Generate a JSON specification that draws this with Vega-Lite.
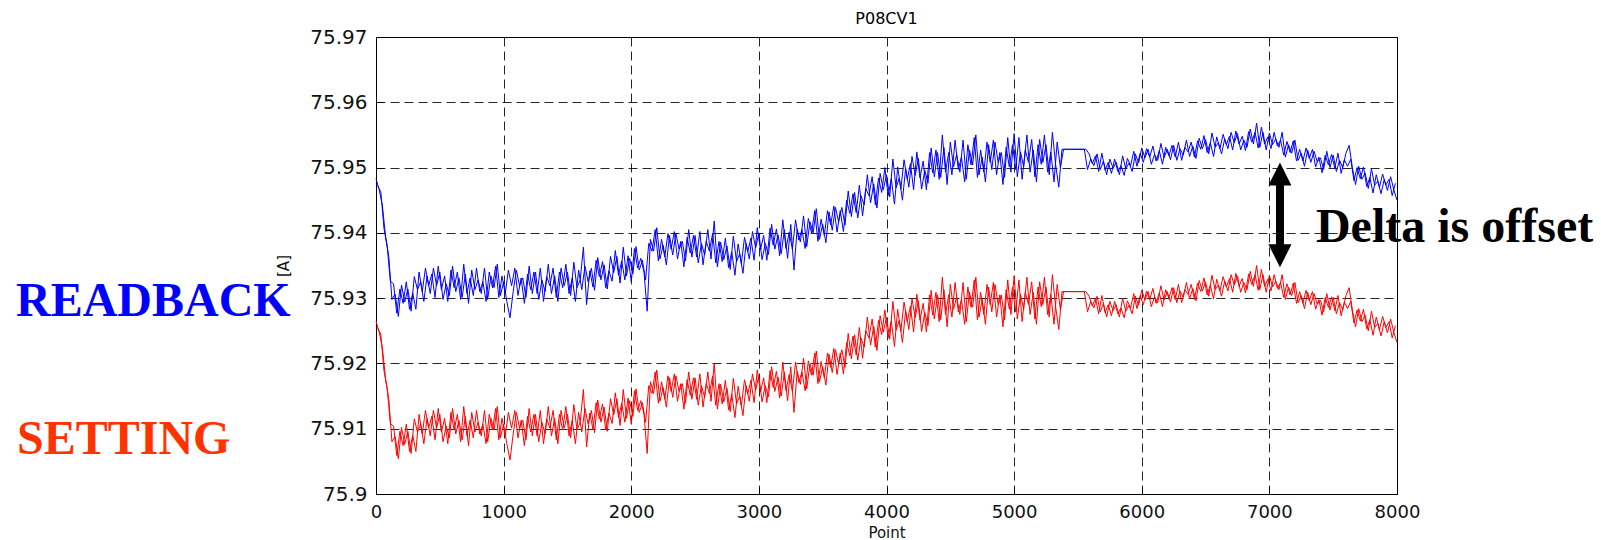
{
  "$schema": "https://vega.github.io/schema/vega-lite/v6.json",
  "width": 1021,
  "height": 457,
  "autosize": {"type": "none"},
  "padding": {"left": 376, "top": 37, "right": 204, "bottom": 46},
  "background": "white",
  "title": {"text": "P08CV1", "font": "DejaVu Sans", "fontSize": 16, "fontWeight": "normal", "color": "#000000", "offset": 0},
  "config": {
    "view": {"stroke": "#000000", "strokeWidth": 1},
    "axis": {
      "domainColor": "#000000",
      "grid": true,
      "gridColor": "#000000",
      "gridOpacity": 0.85,
      "gridDash": [9, 5],
      "ticks": true,
      "tickColor": "#000000",
      "tickSize": -7,
      "labelFlush": false,
      "labelColor": "#111111",
      "labelFont": "DejaVu Sans",
      "titleFont": "DejaVu Sans",
      "titleFontWeight": "normal",
      "titleColor": "#111111"
    }
  },
  "datasets": {
    "main": [
    {"p":0,"r":75.9483,"s":75.9265},{"p":25,"r":75.9466,"s":75.9248},{"p":50,"r":75.9442,"s":75.9224},{"p":75,"r":75.9394,"s":75.9176},{"p":100,"r":75.9364,"s":75.9146},
    {"p":125,"r":75.9298,"s":75.908},{"p":150,"r":75.9306,"s":75.9088},{"p":175,"r":75.9272,"s":75.9054},{"p":200,"r":75.932,"s":75.9102},{"p":225,"r":75.9294,"s":75.9076},
    {"p":250,"r":75.9314,"s":75.9096},{"p":275,"r":75.928,"s":75.9062},{"p":300,"r":75.9333,"s":75.9115},{"p":325,"r":75.9313,"s":75.9095},{"p":350,"r":75.9325,"s":75.9107},
    {"p":375,"r":75.9295,"s":75.9077},{"p":400,"r":75.9334,"s":75.9116},{"p":425,"r":75.9307,"s":75.9089},{"p":450,"r":75.9346,"s":75.9128},{"p":475,"r":75.9319,"s":75.9101},
    {"p":500,"r":75.934,"s":75.9122},{"p":525,"r":75.9298,"s":75.908},{"p":550,"r":75.9322,"s":75.9104},{"p":575,"r":75.9304,"s":75.9086},{"p":600,"r":75.9349,"s":75.9131},
    {"p":625,"r":75.931,"s":75.9092},{"p":650,"r":75.9331,"s":75.9113},{"p":675,"r":75.9301,"s":75.9083},{"p":700,"r":75.9337,"s":75.9119},{"p":725,"r":75.9292,"s":75.9074},
    {"p":750,"r":75.9343,"s":75.9125},{"p":775,"r":75.9313,"s":75.9095},{"p":800,"r":75.9328,"s":75.911},{"p":825,"r":75.9307,"s":75.9089},{"p":850,"r":75.9346,"s":75.9128},
    {"p":875,"r":75.9298,"s":75.908},{"p":900,"r":75.9334,"s":75.9116},{"p":925,"r":75.9316,"s":75.9098},{"p":950,"r":75.9352,"s":75.9134},{"p":975,"r":75.9304,"s":75.9086},
    {"p":1000,"r":75.9325,"s":75.9107},{"p":1025,"r":75.9295,"s":75.9077},{"p":1050,"r":75.927,"s":75.9052},{"p":1075,"r":75.931,"s":75.9092},{"p":1100,"r":75.9343,"s":75.9125},
    {"p":1125,"r":75.9319,"s":75.9101},{"p":1150,"r":75.9331,"s":75.9113},{"p":1175,"r":75.9301,"s":75.9083},{"p":1200,"r":75.9349,"s":75.9131},{"p":1225,"r":75.9307,"s":75.9089},
    {"p":1250,"r":75.934,"s":75.9122},{"p":1275,"r":75.9298,"s":75.908},{"p":1300,"r":75.9328,"s":75.911},{"p":1325,"r":75.931,"s":75.9092},{"p":1350,"r":75.9352,"s":75.9134},
    {"p":1375,"r":75.9307,"s":75.9089},{"p":1400,"r":75.9334,"s":75.9116},{"p":1425,"r":75.9295,"s":75.9077},{"p":1450,"r":75.9346,"s":75.9128},{"p":1475,"r":75.9319,"s":75.9101},
    {"p":1500,"r":75.934,"s":75.9122},{"p":1525,"r":75.9304,"s":75.9086},{"p":1550,"r":75.9355,"s":75.9137},{"p":1575,"r":75.9316,"s":75.9098},{"p":1600,"r":75.9328,"s":75.911},
    {"p":1625,"r":75.9378,"s":75.916},{"p":1650,"r":75.929,"s":75.9072},{"p":1675,"r":75.9342,"s":75.9124},{"p":1700,"r":75.9317,"s":75.9099},{"p":1725,"r":75.9358,"s":75.914},
    {"p":1750,"r":75.9333,"s":75.9115},{"p":1775,"r":75.9356,"s":75.9138},{"p":1800,"r":75.9316,"s":75.9098},{"p":1825,"r":75.9342,"s":75.9124},{"p":1850,"r":75.9326,"s":75.9108},
    {"p":1875,"r":75.9373,"s":75.9155},{"p":1900,"r":75.9335,"s":75.9117},{"p":1925,"r":75.9357,"s":75.9139},{"p":1950,"r":75.9328,"s":75.911},{"p":1975,"r":75.9365,"s":75.9147},
    {"p":2000,"r":75.9325,"s":75.9107},{"p":2025,"r":75.9376,"s":75.9158},{"p":2050,"r":75.9346,"s":75.9128},{"p":2075,"r":75.9361,"s":75.9143},{"p":2100,"r":75.934,"s":75.9122},
    {"p":2125,"r":75.928,"s":75.9062},{"p":2150,"r":75.939,"s":75.9172},{"p":2175,"r":75.9372,"s":75.9154},{"p":2200,"r":75.9408,"s":75.919},{"p":2225,"r":75.936,"s":75.9142},
    {"p":2250,"r":75.9381,"s":75.9163},{"p":2275,"r":75.9351,"s":75.9133},{"p":2300,"r":75.9396,"s":75.9178},{"p":2325,"r":75.9366,"s":75.9148},{"p":2350,"r":75.9399,"s":75.9181},
    {"p":2375,"r":75.9375,"s":75.9157},{"p":2400,"r":75.9387,"s":75.9169},{"p":2425,"r":75.9357,"s":75.9139},{"p":2450,"r":75.9405,"s":75.9187},{"p":2475,"r":75.9363,"s":75.9145},
    {"p":2500,"r":75.9396,"s":75.9178},{"p":2525,"r":75.9354,"s":75.9136},{"p":2550,"r":75.9384,"s":75.9166},{"p":2575,"r":75.9366,"s":75.9148},{"p":2600,"r":75.9405,"s":75.9187},
    {"p":2625,"r":75.936,"s":75.9142},{"p":2650,"r":75.9418,"s":75.92},{"p":2675,"r":75.9348,"s":75.913},{"p":2700,"r":75.9386,"s":75.9168},{"p":2725,"r":75.9359,"s":75.9141},
    {"p":2750,"r":75.938,"s":75.9162},{"p":2775,"r":75.9344,"s":75.9126},{"p":2800,"r":75.9395,"s":75.9177},{"p":2825,"r":75.9356,"s":75.9138},{"p":2850,"r":75.9368,"s":75.915},
    {"p":2875,"r":75.9338,"s":75.912},{"p":2900,"r":75.9384,"s":75.9166},{"p":2925,"r":75.936,"s":75.9142},{"p":2950,"r":75.9402,"s":75.9184},{"p":2975,"r":75.9377,"s":75.9159},
    {"p":3000,"r":75.94,"s":75.9182},{"p":3025,"r":75.9359,"s":75.9141},{"p":3050,"r":75.9384,"s":75.9166},{"p":3075,"r":75.9367,"s":75.9149},{"p":3100,"r":75.9413,"s":75.9195},
    {"p":3125,"r":75.9375,"s":75.9157},{"p":3150,"r":75.9397,"s":75.9179},{"p":3175,"r":75.9368,"s":75.915},{"p":3200,"r":75.9405,"s":75.9187},{"p":3225,"r":75.9361,"s":75.9143},
    {"p":3250,"r":75.9413,"s":75.9195},{"p":3275,"r":75.9343,"s":75.9125},{"p":3300,"r":75.9406,"s":75.9188},{"p":3325,"r":75.9386,"s":75.9168},{"p":3350,"r":75.9426,"s":75.9208},
    {"p":3375,"r":75.9379,"s":75.9161},{"p":3400,"r":75.9417,"s":75.9199},{"p":3425,"r":75.94,"s":75.9182},{"p":3450,"r":75.9437,"s":75.9219},{"p":3475,"r":75.939,"s":75.9172},
    {"p":3500,"r":75.9413,"s":75.9195},{"p":3525,"r":75.9385,"s":75.9167},{"p":3550,"r":75.9432,"s":75.9214},{"p":3575,"r":75.9404,"s":75.9186},{"p":3600,"r":75.9439,"s":75.9221},
    {"p":3625,"r":75.9417,"s":75.9199},{"p":3650,"r":75.9439,"s":75.9221},{"p":3675,"r":75.9412,"s":75.9194},{"p":3700,"r":75.9464,"s":75.9246},{"p":3725,"r":75.9425,"s":75.9207},
    {"p":3750,"r":75.9462,"s":75.9244},{"p":3775,"r":75.9423,"s":75.9205},{"p":3800,"r":75.9457,"s":75.9239},{"p":3825,"r":75.9443,"s":75.9225},{"p":3850,"r":75.9489,"s":75.9271},
    {"p":3875,"r":75.9446,"s":75.9228},{"p":3900,"r":75.9475,"s":75.9257},{"p":3925,"r":75.9438,"s":75.922},{"p":3950,"r":75.9491,"s":75.9273},{"p":3975,"r":75.9466,"s":75.9248},
    {"p":4000,"r":75.9489,"s":75.9271},{"p":4025,"r":75.9455,"s":75.9237},{"p":4050,"r":75.9513,"s":75.9295},{"p":4075,"r":75.9469,"s":75.9251},{"p":4100,"r":75.9484,"s":75.9266},
    {"p":4125,"r":75.945,"s":75.9232},{"p":4150,"r":75.9499,"s":75.9281},{"p":4175,"r":75.947,"s":75.9252},{"p":4200,"r":75.9517,"s":75.9299},{"p":4225,"r":75.9488,"s":75.927},
    {"p":4250,"r":75.9514,"s":75.9296},{"p":4275,"r":75.9467,"s":75.9249},{"p":4300,"r":75.9496,"s":75.9278},{"p":4325,"r":75.9476,"s":75.9258},{"p":4350,"r":75.953,"s":75.9312},
    {"p":4375,"r":75.9486,"s":75.9268},{"p":4400,"r":75.9523,"s":75.9305},{"p":4425,"r":75.9485,"s":75.9267},{"p":4450,"r":75.9531,"s":75.9313},{"p":4475,"r":75.9474,"s":75.9256},
    {"p":4500,"r":75.9539,"s":75.9321},{"p":4525,"r":75.9501,"s":75.9283},{"p":4550,"r":75.952,"s":75.9302},{"p":4575,"r":75.9493,"s":75.9275},{"p":4600,"r":75.9542,"s":75.9324},
    {"p":4625,"r":75.9482,"s":75.9264},{"p":4650,"r":75.9527,"s":75.9309},{"p":4675,"r":75.9504,"s":75.9286},{"p":4700,"r":75.955,"s":75.9332},{"p":4725,"r":75.9489,"s":75.9271},
    {"p":4750,"r":75.9516,"s":75.9298},{"p":4775,"r":75.9478,"s":75.926},{"p":4800,"r":75.9535,"s":75.9317},{"p":4825,"r":75.9497,"s":75.9279},{"p":4850,"r":75.9539,"s":75.9321},
    {"p":4875,"r":75.9508,"s":75.929},{"p":4900,"r":75.9523,"s":75.9305},{"p":4925,"r":75.9485,"s":75.9267},{"p":4950,"r":75.9546,"s":75.9328},{"p":4975,"r":75.9493,"s":75.9275},
    {"p":5000,"r":75.9552,"s":75.9334},{"p":5025,"r":75.9486,"s":75.9268},{"p":5050,"r":75.9524,"s":75.9306},{"p":5075,"r":75.9501,"s":75.9283},{"p":5100,"r":75.955,"s":75.9332},
    {"p":5125,"r":75.9493,"s":75.9275},{"p":5150,"r":75.9527,"s":75.9309},{"p":5175,"r":75.9478,"s":75.926},{"p":5200,"r":75.9543,"s":75.9325},{"p":5225,"r":75.9508,"s":75.929},
    {"p":5250,"r":75.9535,"s":75.9317},{"p":5275,"r":75.9489,"s":75.9271},{"p":5300,"r":75.9554,"s":75.9336},{"p":5325,"r":75.9505,"s":75.9287},{"p":5350,"r":75.947,"s":75.9252},
    {"p":5375,"r":75.9528,"s":75.931},{"p":5400,"r":75.9528,"s":75.931},{"p":5425,"r":75.9528,"s":75.931},{"p":5450,"r":75.9528,"s":75.931},{"p":5475,"r":75.9528,"s":75.931},
    {"p":5500,"r":75.9528,"s":75.931},{"p":5525,"r":75.9528,"s":75.931},{"p":5550,"r":75.9528,"s":75.931},{"p":5575,"r":75.9497,"s":75.9279},{"p":5600,"r":75.9513,"s":75.9295},
    {"p":5625,"r":75.9503,"s":75.9285},{"p":5650,"r":75.9521,"s":75.9303},{"p":5675,"r":75.9497,"s":75.9279},{"p":5700,"r":75.951,"s":75.9292},{"p":5725,"r":75.9489,"s":75.9271},
    {"p":5750,"r":75.9513,"s":75.9295},{"p":5775,"r":75.9499,"s":75.9281},{"p":5800,"r":75.9508,"s":75.929},{"p":5825,"r":75.9489,"s":75.9271},{"p":5850,"r":75.9518,"s":75.93},
    {"p":5875,"r":75.9498,"s":75.928},{"p":5900,"r":75.9507,"s":75.9289},{"p":5925,"r":75.9494,"s":75.9276},{"p":5950,"r":75.9521,"s":75.9303},{"p":5975,"r":75.9507,"s":75.9289},
    {"p":6000,"r":75.953,"s":75.9312},{"p":6025,"r":75.9515,"s":75.9297},{"p":6050,"r":75.9528,"s":75.931},{"p":6075,"r":75.9505,"s":75.9287},{"p":6100,"r":75.952,"s":75.9302},
    {"p":6125,"r":75.9511,"s":75.9293},{"p":6150,"r":75.9537,"s":75.9319},{"p":6175,"r":75.9515,"s":75.9297},{"p":6200,"r":75.9528,"s":75.931},{"p":6225,"r":75.9512,"s":75.9294},
    {"p":6250,"r":75.9534,"s":75.9316},{"p":6275,"r":75.9511,"s":75.9293},{"p":6300,"r":75.9529,"s":75.9311},{"p":6325,"r":75.9519,"s":75.9301},{"p":6350,"r":75.9542,"s":75.9324},
    {"p":6375,"r":75.9517,"s":75.9299},{"p":6400,"r":75.9533,"s":75.9315},{"p":6425,"r":75.9514,"s":75.9296},{"p":6450,"r":75.9545,"s":75.9327},{"p":6475,"r":75.9529,"s":75.9311},
    {"p":6500,"r":75.9543,"s":75.9325},{"p":6525,"r":75.9521,"s":75.9303},{"p":6550,"r":75.9553,"s":75.9335},{"p":6575,"r":75.9531,"s":75.9313},{"p":6600,"r":75.9538,"s":75.932},
    {"p":6625,"r":75.9521,"s":75.9303},{"p":6650,"r":75.9544,"s":75.9326},{"p":6675,"r":75.9529,"s":75.9311},{"p":6700,"r":75.9554,"s":75.9336},{"p":6725,"r":75.9538,"s":75.932},
    {"p":6750,"r":75.9552,"s":75.9334},{"p":6775,"r":75.9527,"s":75.9309},{"p":6800,"r":75.9542,"s":75.9324},{"p":6825,"r":75.9531,"s":75.9313},{"p":6850,"r":75.9559,"s":75.9341},
    {"p":6875,"r":75.9536,"s":75.9318},{"p":6900,"r":75.9568,"s":75.935},{"p":6925,"r":75.9531,"s":75.9313},{"p":6950,"r":75.9554,"s":75.9336},{"p":6975,"r":75.9527,"s":75.9309},
    {"p":7000,"r":75.9553,"s":75.9335},{"p":7025,"r":75.9535,"s":75.9317},{"p":7050,"r":75.9544,"s":75.9326},{"p":7075,"r":75.9531,"s":75.9313},{"p":7100,"r":75.9554,"s":75.9336},
    {"p":7125,"r":75.9516,"s":75.9298},{"p":7150,"r":75.9535,"s":75.9317},{"p":7175,"r":75.9522,"s":75.9304},{"p":7200,"r":75.9542,"s":75.9324},{"p":7225,"r":75.9511,"s":75.9293},
    {"p":7250,"r":75.9522,"s":75.9304},{"p":7275,"r":75.9502,"s":75.9284},{"p":7300,"r":75.9527,"s":75.9309},{"p":7325,"r":75.9508,"s":75.929},{"p":7350,"r":75.9525,"s":75.9307},
    {"p":7375,"r":75.9509,"s":75.9291},{"p":7400,"r":75.9515,"s":75.9297},{"p":7425,"r":75.9497,"s":75.9279},{"p":7450,"r":75.9525,"s":75.9307},{"p":7475,"r":75.95,"s":75.9282},
    {"p":7500,"r":75.9519,"s":75.9301},{"p":7525,"r":75.9494,"s":75.9276},{"p":7550,"r":75.9511,"s":75.9293},{"p":7575,"r":75.95,"s":75.9282},{"p":7600,"r":75.9522,"s":75.9304},
    {"p":7625,"r":75.9534,"s":75.9316},{"p":7650,"r":75.95,"s":75.9282},{"p":7675,"r":75.9474,"s":75.9256},{"p":7700,"r":75.9502,"s":75.9284},{"p":7725,"r":75.9482,"s":75.9264},
    {"p":7750,"r":75.9492,"s":75.9274},{"p":7775,"r":75.9468,"s":75.925},{"p":7800,"r":75.9498,"s":75.928},{"p":7825,"r":75.9473,"s":75.9255},{"p":7850,"r":75.9479,"s":75.9261},
    {"p":7875,"r":75.946,"s":75.9242},{"p":7900,"r":75.9482,"s":75.9264},{"p":7925,"r":75.9465,"s":75.9247},{"p":7950,"r":75.9486,"s":75.9268},{"p":7975,"r":75.9466,"s":75.9248},
    {"p":8000,"r":75.945,"s":75.9232}
    ],
    "mid": [
    {"p":12.5,"r":75.9472,"s":75.9254},{"p":37.5,"r":75.9463,"s":75.9245},{"p":62.5,"r":75.9407,"s":75.9189},{"p":87.5,"r":75.938,"s":75.9162},{"p":112.5,"r":75.9326,"s":75.9108},
    {"p":137.5,"r":75.9322,"s":75.9104},{"p":162.5,"r":75.9277,"s":75.9059},{"p":187.5,"r":75.9314,"s":75.9096},{"p":212.5,"r":75.9292,"s":75.9074},{"p":237.5,"r":75.9325,"s":75.9107},
    {"p":262.5,"r":75.9283,"s":75.9065},{"p":287.5,"r":75.9308,"s":75.909},{"p":312.5,"r":75.9283,"s":75.9065},{"p":337.5,"r":75.934,"s":75.9122},{"p":362.5,"r":75.931,"s":75.9092},
    {"p":387.5,"r":75.9346,"s":75.9128},{"p":412.5,"r":75.9319,"s":75.9101},{"p":437.5,"r":75.9337,"s":75.9119},{"p":462.5,"r":75.9301,"s":75.9083},{"p":487.5,"r":75.9349,"s":75.9131},
    {"p":512.5,"r":75.9313,"s":75.9095},{"p":537.5,"r":75.9334,"s":75.9116},{"p":562.5,"r":75.9295,"s":75.9077},{"p":587.5,"r":75.9343,"s":75.9125},{"p":612.5,"r":75.9316,"s":75.9098},
    {"p":637.5,"r":75.934,"s":75.9122},{"p":662.5,"r":75.9298,"s":75.908},{"p":687.5,"r":75.9352,"s":75.9134},{"p":712.5,"r":75.9307,"s":75.9089},{"p":737.5,"r":75.9331,"s":75.9113},
    {"p":762.5,"r":75.9304,"s":75.9086},{"p":787.5,"r":75.9346,"s":75.9128},{"p":812.5,"r":75.931,"s":75.9092},{"p":837.5,"r":75.9325,"s":75.9107},{"p":862.5,"r":75.9295,"s":75.9077},
    {"p":887.5,"r":75.934,"s":75.9122},{"p":912.5,"r":75.9316,"s":75.9098},{"p":937.5,"r":75.9349,"s":75.9131},{"p":962.5,"r":75.9301,"s":75.9083},{"p":987.5,"r":75.9334,"s":75.9116},
    {"p":1012.5,"r":75.9307,"s":75.9089},{"p":1037.5,"r":75.9343,"s":75.9125},{"p":1062.5,"r":75.9319,"s":75.9101},{"p":1087.5,"r":75.9346,"s":75.9128},{"p":1112.5,"r":75.9304,"s":75.9086},
    {"p":1137.5,"r":75.9331,"s":75.9113},{"p":1162.5,"r":75.9292,"s":75.9074},{"p":1187.5,"r":75.9337,"s":75.9119},{"p":1212.5,"r":75.9313,"s":75.9095},{"p":1237.5,"r":75.934,"s":75.9122},
    {"p":1262.5,"r":75.9307,"s":75.9089},{"p":1287.5,"r":75.9346,"s":75.9128},{"p":1312.5,"r":75.9295,"s":75.9077},{"p":1337.5,"r":75.9333,"s":75.9115},{"p":1362.5,"r":75.9319,"s":75.9101},
    {"p":1387.5,"r":75.9346,"s":75.9128},{"p":1412.5,"r":75.9301,"s":75.9083},{"p":1437.5,"r":75.934,"s":75.9122},{"p":1462.5,"r":75.9316,"s":75.9098},{"p":1487.5,"r":75.9352,"s":75.9134},
    {"p":1512.5,"r":75.9307,"s":75.9089},{"p":1537.5,"r":75.9331,"s":75.9113},{"p":1562.5,"r":75.9295,"s":75.9077},{"p":1587.5,"r":75.9343,"s":75.9125},{"p":1612.5,"r":75.9313,"s":75.9095},
    {"p":1637.5,"r":75.9349,"s":75.9131},{"p":1662.5,"r":75.9325,"s":75.9107},{"p":1687.5,"r":75.9346,"s":75.9128},{"p":1712.5,"r":75.9312,"s":75.9094},{"p":1737.5,"r":75.9362,"s":75.9144},
    {"p":1762.5,"r":75.9328,"s":75.911},{"p":1787.5,"r":75.9351,"s":75.9133},{"p":1812.5,"r":75.9314,"s":75.9096},{"p":1837.5,"r":75.9364,"s":75.9146},{"p":1862.5,"r":75.9339,"s":75.9121},
    {"p":1887.5,"r":75.9364,"s":75.9146},{"p":1912.5,"r":75.9323,"s":75.9105},{"p":1937.5,"r":75.9378,"s":75.916},{"p":1962.5,"r":75.9334,"s":75.9116},{"p":1987.5,"r":75.9361,"s":75.9143},
    {"p":2012.5,"r":75.9337,"s":75.9119},{"p":2037.5,"r":75.9379,"s":75.9161},{"p":2062.5,"r":75.9343,"s":75.9125},{"p":2087.5,"r":75.9358,"s":75.914},{"p":2112.5,"r":75.9328,"s":75.911},
    {"p":2137.5,"r":75.9384,"s":75.9166},{"p":2162.5,"r":75.9372,"s":75.9154},{"p":2187.5,"r":75.9405,"s":75.9187},{"p":2212.5,"r":75.9357,"s":75.9139},{"p":2237.5,"r":75.939,"s":75.9172},
    {"p":2262.5,"r":75.9363,"s":75.9145},{"p":2287.5,"r":75.9399,"s":75.9181},{"p":2312.5,"r":75.9375,"s":75.9157},{"p":2337.5,"r":75.9402,"s":75.9184},{"p":2362.5,"r":75.936,"s":75.9142},
    {"p":2387.5,"r":75.9387,"s":75.9169},{"p":2412.5,"r":75.9348,"s":75.913},{"p":2437.5,"r":75.9393,"s":75.9175},{"p":2462.5,"r":75.9369,"s":75.9151},{"p":2487.5,"r":75.9396,"s":75.9178},
    {"p":2512.5,"r":75.9363,"s":75.9145},{"p":2537.5,"r":75.9402,"s":75.9184},{"p":2562.5,"r":75.9351,"s":75.9133},{"p":2587.5,"r":75.9387,"s":75.9169},{"p":2612.5,"r":75.9372,"s":75.9154},
    {"p":2637.5,"r":75.9399,"s":75.9181},{"p":2662.5,"r":75.9354,"s":75.9136},{"p":2687.5,"r":75.9387,"s":75.9169},{"p":2712.5,"r":75.9356,"s":75.9138},{"p":2737.5,"r":75.9392,"s":75.9174},
    {"p":2762.5,"r":75.9347,"s":75.9129},{"p":2787.5,"r":75.9371,"s":75.9153},{"p":2812.5,"r":75.9335,"s":75.9117},{"p":2837.5,"r":75.9383,"s":75.9165},{"p":2862.5,"r":75.9353,"s":75.9135},
    {"p":2887.5,"r":75.9393,"s":75.9175},{"p":2912.5,"r":75.9371,"s":75.9153},{"p":2937.5,"r":75.9392,"s":75.9174},{"p":2962.5,"r":75.9358,"s":75.914},{"p":2987.5,"r":75.9408,"s":75.919},
    {"p":3012.5,"r":75.9374,"s":75.9156},{"p":3037.5,"r":75.9396,"s":75.9178},{"p":3062.5,"r":75.9358,"s":75.914},{"p":3087.5,"r":75.9407,"s":75.9189},{"p":3112.5,"r":75.9381,"s":75.9163},
    {"p":3137.5,"r":75.9406,"s":75.9188},{"p":3162.5,"r":75.9365,"s":75.9147},{"p":3187.5,"r":75.942,"s":75.9202},{"p":3212.5,"r":75.9376,"s":75.9158},{"p":3237.5,"r":75.9401,"s":75.9183},
    {"p":3262.5,"r":75.9375,"s":75.9157},{"p":3287.5,"r":75.942,"s":75.9202},{"p":3312.5,"r":75.9389,"s":75.9171},{"p":3337.5,"r":75.9405,"s":75.9187},{"p":3362.5,"r":75.9376,"s":75.9158},
    {"p":3387.5,"r":75.9422,"s":75.9204},{"p":3412.5,"r":75.94,"s":75.9182},{"p":3437.5,"r":75.9434,"s":75.9216},{"p":3462.5,"r":75.9387,"s":75.9169},{"p":3487.5,"r":75.9421,"s":75.9203},
    {"p":3512.5,"r":75.9396,"s":75.9178},{"p":3537.5,"r":75.9434,"s":75.9216},{"p":3562.5,"r":75.9412,"s":75.9194},{"p":3587.5,"r":75.9441,"s":75.9223},{"p":3612.5,"r":75.9401,"s":75.9183},
    {"p":3637.5,"r":75.9434,"s":75.9216},{"p":3662.5,"r":75.9402,"s":75.9184},{"p":3687.5,"r":75.945,"s":75.9232},{"p":3712.5,"r":75.943,"s":75.9212},{"p":3737.5,"r":75.946,"s":75.9242},
    {"p":3762.5,"r":75.9431,"s":75.9213},{"p":3787.5,"r":75.9473,"s":75.9255},{"p":3812.5,"r":75.9426,"s":75.9208},{"p":3837.5,"r":75.9468,"s":75.925},{"p":3862.5,"r":75.9457,"s":75.9239},
    {"p":3887.5,"r":75.9486,"s":75.9268},{"p":3912.5,"r":75.9443,"s":75.9225},{"p":3937.5,"r":75.9484,"s":75.9266},{"p":3962.5,"r":75.9462,"s":75.9244},{"p":3987.5,"r":75.95,"s":75.9282},
    {"p":4012.5,"r":75.9457,"s":75.9239},{"p":4037.5,"r":75.9483,"s":75.9265},{"p":4062.5,"r":75.9444,"s":75.9226},{"p":4087.5,"r":75.9501,"s":75.9283},{"p":4112.5,"r":75.9467,"s":75.9249},
    {"p":4137.5,"r":75.9512,"s":75.9294},{"p":4162.5,"r":75.9482,"s":75.9264},{"p":4187.5,"r":75.9506,"s":75.9288},{"p":4212.5,"r":75.9466,"s":75.9248},{"p":4237.5,"r":75.9524,"s":75.9306},
    {"p":4262.5,"r":75.9484,"s":75.9266},{"p":4287.5,"r":75.951,"s":75.9292},{"p":4312.5,"r":75.9466,"s":75.9248},{"p":4337.5,"r":75.9523,"s":75.9305},{"p":4362.5,"r":75.9492,"s":75.9274},
    {"p":4387.5,"r":75.9527,"s":75.9309},{"p":4412.5,"r":75.9482,"s":75.9264},{"p":4437.5,"r":75.955,"s":75.9332},{"p":4462.5,"r":75.9493,"s":75.9275},{"p":4487.5,"r":75.9523,"s":75.9305},
    {"p":4512.5,"r":75.9489,"s":75.9271},{"p":4537.5,"r":75.9542,"s":75.9324},{"p":4562.5,"r":75.9497,"s":75.9279},{"p":4587.5,"r":75.9516,"s":75.9298},{"p":4612.5,"r":75.9478,"s":75.926},
    {"p":4637.5,"r":75.9535,"s":75.9317},{"p":4662.5,"r":75.9504,"s":75.9286},{"p":4687.5,"r":75.9546,"s":75.9328},{"p":4712.5,"r":75.9485,"s":75.9267},{"p":4737.5,"r":75.9527,"s":75.9309},
    {"p":4762.5,"r":75.9493,"s":75.9275},{"p":4787.5,"r":75.9539,"s":75.9321},{"p":4812.5,"r":75.9508,"s":75.929},{"p":4837.5,"r":75.9542,"s":75.9324},{"p":4862.5,"r":75.9489,"s":75.9271},
    {"p":4887.5,"r":75.9523,"s":75.9305},{"p":4912.5,"r":75.9474,"s":75.9256},{"p":4937.5,"r":75.9531,"s":75.9313},{"p":4962.5,"r":75.9501,"s":75.9283},{"p":4987.5,"r":75.9535,"s":75.9317},
    {"p":5012.5,"r":75.9497,"s":75.9279},{"p":5037.5,"r":75.9546,"s":75.9328},{"p":5062.5,"r":75.9482,"s":75.9264},{"p":5087.5,"r":75.9527,"s":75.9309},{"p":5112.5,"r":75.9508,"s":75.929},
    {"p":5137.5,"r":75.9543,"s":75.9325},{"p":5162.5,"r":75.9486,"s":75.9268},{"p":5187.5,"r":75.9535,"s":75.9317},{"p":5212.5,"r":75.9505,"s":75.9287},{"p":5237.5,"r":75.955,"s":75.9332},
    {"p":5262.5,"r":75.9493,"s":75.9275},{"p":5287.5,"r":75.9524,"s":75.9306},{"p":5312.5,"r":75.9478,"s":75.926},{"p":5337.5,"r":75.9539,"s":75.9321},{"p":5362.5,"r":75.95,"s":75.9282},
    {"p":5387.5,"r":75.9528,"s":75.931},{"p":5412.5,"r":75.9528,"s":75.931},{"p":5437.5,"r":75.9528,"s":75.931},{"p":5462.5,"r":75.9528,"s":75.931},{"p":5487.5,"r":75.9528,"s":75.931},
    {"p":5512.5,"r":75.9528,"s":75.931},{"p":5537.5,"r":75.9528,"s":75.931},{"p":5562.5,"r":75.9528,"s":75.931},{"p":5587.5,"r":75.9521,"s":75.9303},{"p":5612.5,"r":75.9506,"s":75.9288},
    {"p":5637.5,"r":75.9518,"s":75.93},{"p":5662.5,"r":75.9494,"s":75.9276},{"p":5687.5,"r":75.9522,"s":75.9304},{"p":5712.5,"r":75.9496,"s":75.9278},{"p":5737.5,"r":75.9508,"s":75.929},
    {"p":5762.5,"r":75.9491,"s":75.9273},{"p":5787.5,"r":75.9513,"s":75.9295},{"p":5812.5,"r":75.9494,"s":75.9276},{"p":5837.5,"r":75.9503,"s":75.9285},{"p":5862.5,"r":75.9488,"s":75.927},
    {"p":5887.5,"r":75.9514,"s":75.9296},{"p":5912.5,"r":75.9503,"s":75.9285},{"p":5937.5,"r":75.9525,"s":75.9307},{"p":5962.5,"r":75.9502,"s":75.9284},{"p":5987.5,"r":75.9522,"s":75.9304},
    {"p":6012.5,"r":75.9508,"s":75.929},{"p":6037.5,"r":75.9529,"s":75.9311},{"p":6062.5,"r":75.9516,"s":75.9298},{"p":6087.5,"r":75.9533,"s":75.9315},{"p":6112.5,"r":75.951,"s":75.9292},
    {"p":6137.5,"r":75.9526,"s":75.9308},{"p":6162.5,"r":75.9505,"s":75.9287},{"p":6187.5,"r":75.9531,"s":75.9313},{"p":6212.5,"r":75.9518,"s":75.93},{"p":6237.5,"r":75.9534,"s":75.9316},
    {"p":6262.5,"r":75.9516,"s":75.9298},{"p":6287.5,"r":75.9539,"s":75.9321},{"p":6312.5,"r":75.9511,"s":75.9293},{"p":6337.5,"r":75.9531,"s":75.9313},{"p":6362.5,"r":75.9524,"s":75.9306},
    {"p":6387.5,"r":75.9539,"s":75.9321},{"p":6412.5,"r":75.9516,"s":75.9298},{"p":6437.5,"r":75.9541,"s":75.9323},{"p":6462.5,"r":75.9528,"s":75.931},{"p":6487.5,"r":75.9549,"s":75.9331},
    {"p":6512.5,"r":75.9523,"s":75.9305},{"p":6537.5,"r":75.9538,"s":75.932},{"p":6562.5,"r":75.9517,"s":75.9299},{"p":6587.5,"r":75.9547,"s":75.9329},{"p":6612.5,"r":75.9529,"s":75.9311},
    {"p":6637.5,"r":75.9551,"s":75.9333},{"p":6662.5,"r":75.9535,"s":75.9317},{"p":6687.5,"r":75.9548,"s":75.933},{"p":6712.5,"r":75.9527,"s":75.9309},{"p":6737.5,"r":75.9556,"s":75.9338},
    {"p":6762.5,"r":75.9536,"s":75.9318},{"p":6787.5,"r":75.9548,"s":75.933},{"p":6812.5,"r":75.9526,"s":75.9308},{"p":6837.5,"r":75.9555,"s":75.9337},{"p":6862.5,"r":75.9539,"s":75.9321},
    {"p":6887.5,"r":75.9554,"s":75.9336},{"p":6912.5,"r":75.953,"s":75.9312},{"p":6937.5,"r":75.9562,"s":75.9344},{"p":6962.5,"r":75.9536,"s":75.9318},{"p":6987.5,"r":75.9547,"s":75.9329},
    {"p":7012.5,"r":75.9529,"s":75.9311},{"p":7037.5,"r":75.9554,"s":75.9336},{"p":7062.5,"r":75.9533,"s":75.9315},{"p":7087.5,"r":75.9542,"s":75.9324},{"p":7112.5,"r":75.9519,"s":75.9301},
    {"p":7137.5,"r":75.954,"s":75.9322},{"p":7162.5,"r":75.9523,"s":75.9305},{"p":7187.5,"r":75.9541,"s":75.9323},{"p":7212.5,"r":75.951,"s":75.9292},{"p":7237.5,"r":75.9528,"s":75.931},
    {"p":7262.5,"r":75.951,"s":75.9292},{"p":7287.5,"r":75.953,"s":75.9312},{"p":7312.5,"r":75.9514,"s":75.9296},{"p":7337.5,"r":75.9528,"s":75.931},{"p":7362.5,"r":75.9501,"s":75.9283},
    {"p":7387.5,"r":75.9516,"s":75.9298},{"p":7412.5,"r":75.9492,"s":75.9274},{"p":7437.5,"r":75.9519,"s":75.9301},{"p":7462.5,"r":75.9504,"s":75.9286},{"p":7487.5,"r":75.952,"s":75.9302},
    {"p":7512.5,"r":75.9499,"s":75.9281},{"p":7537.5,"r":75.9522,"s":75.9304},{"p":7562.5,"r":75.9491,"s":75.9273},{"p":7587.5,"r":75.9512,"s":75.9294},{"p":7612.5,"r":75.9502,"s":75.9284},
    {"p":7637.5,"r":75.9513,"s":75.9295},{"p":7662.5,"r":75.948,"s":75.9262},{"p":7687.5,"r":75.95,"s":75.9282},{"p":7712.5,"r":75.9483,"s":75.9265},{"p":7737.5,"r":75.9501,"s":75.9283},
    {"p":7762.5,"r":75.9471,"s":75.9253},{"p":7787.5,"r":75.9485,"s":75.9267},{"p":7812.5,"r":75.9461,"s":75.9243},{"p":7837.5,"r":75.9489,"s":75.9271},{"p":7862.5,"r":75.947,"s":75.9252},
    {"p":7887.5,"r":75.949,"s":75.9272},{"p":7912.5,"r":75.9473,"s":75.9255},{"p":7937.5,"r":75.9482,"s":75.9264},{"p":7962.5,"r":75.9457,"s":75.9239},{"p":7987.5,"r":75.9476,"s":75.9258}
    ],
    "arrow": [{"x": 7083, "y1": 75.9481, "y2": 75.9374}],
    "heads": [{"x": 7083, "y": 75.94903, "dir": "up"}, {"x": 7083, "y": 75.93648, "dir": "down"}],
    "labels": [
      {"x": -2821, "y": 75.92719, "t": "READBACK"},
      {"x": -2813, "y": 75.90617, "t": "SETTING"},
      {"x": 7365, "y": 75.93867, "t": "Delta is offset"}
    ]
  },
  "layer": [
    {
      "data": {"name": "main"},
      "mark": {"type": "line", "color": "#0000ff", "strokeWidth": 1},
      "encoding": {
        "x": {"field": "p", "type": "quantitative", "scale": {"domain": [0, 8000], "nice": false, "zero": false},
              "axis": {"values": [0,1000,2000,3000,4000,5000,6000,7000,8000], "format": "d", "labelFontSize": 18, "labelPadding": 16, "title": "Point", "titleFontSize": 15, "titlePadding": 4}},
        "y": {"field": "r", "type": "quantitative", "scale": {"domain": [75.9, 75.97], "nice": false, "zero": false},
              "axis": {"values": [75.9,75.91,75.92,75.93,75.94,75.95,75.96,75.97], "format": ".4~r", "labelFontSize": 20, "labelPadding": 16, "title": "[A]", "titleFontSize": 15, "titlePadding": 18}}
      }
    },
    {
      "data": {"name": "mid"},
      "mark": {"type": "line", "color": "#0000ff", "strokeWidth": 1},
      "encoding": {
        "x": {"field": "p", "type": "quantitative"},
        "y": {"field": "r", "type": "quantitative"}
      }
    },
    {
      "data": {"name": "main"},
      "mark": {"type": "line", "color": "#ff0000", "strokeWidth": 1},
      "encoding": {
        "x": {"field": "p", "type": "quantitative"},
        "y": {"field": "s", "type": "quantitative"}
      }
    },
    {
      "data": {"name": "mid"},
      "mark": {"type": "line", "color": "#ff0000", "strokeWidth": 1},
      "encoding": {
        "x": {"field": "p", "type": "quantitative"},
        "y": {"field": "s", "type": "quantitative"}
      }
    },
    {
      "data": {"name": "arrow"},
      "mark": {"type": "rule", "color": "#000000", "strokeWidth": 8},
      "encoding": {
        "x": {"field": "x", "type": "quantitative"},
        "y": {"field": "y1", "type": "quantitative"},
        "y2": {"field": "y2"}
      }
    },
    {
      "data": {"name": "heads"},
      "mark": {"type": "point", "filled": true, "color": "#000000", "opacity": 1, "size": 529, "strokeWidth": 0},
      "encoding": {
        "x": {"field": "x", "type": "quantitative"},
        "y": {"field": "y", "type": "quantitative"},
        "shape": {"field": "dir", "type": "nominal", "scale": {"domain": ["up", "down"], "range": ["M0,-1L1,1L-1,1Z", "M-1,-1L1,-1L0,1Z"]}, "legend": null}
      }
    },
    {
      "data": {"name": "labels"},
      "mark": {"type": "text", "font": "Liberation Serif", "fontWeight": "bold", "fontSize": 48, "align": "left", "baseline": "alphabetic", "clip": false},
      "encoding": {
        "x": {"field": "x", "type": "quantitative"},
        "y": {"field": "y", "type": "quantitative"},
        "text": {"field": "t", "type": "nominal"},
        "color": {"field": "t", "type": "nominal", "scale": {"domain": ["READBACK", "SETTING", "Delta is offset"], "range": ["#0000ff", "#ff3300", "#000000"]}, "legend": null}
      }
    }
  ]
}
